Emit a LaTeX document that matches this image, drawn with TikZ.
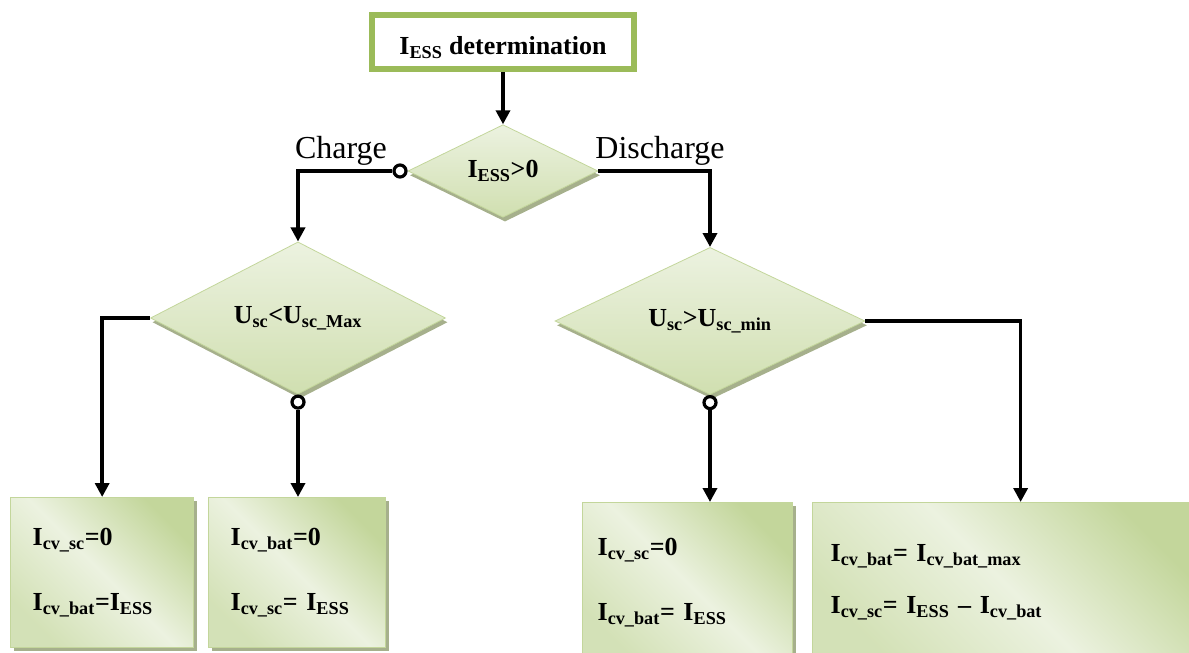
\documentclass[tikz,border=0pt]{standalone}
\usepackage{fontspec}
\setmainfont{Liberation Serif}
\usetikzlibrary{shapes.geometric,arrows.meta,shadows}
\definecolor{essgreen}{RGB}{155,187,89}
\definecolor{dialight}{RGB}{236,242,224}
\definecolor{diadark}{RGB}{208,223,176}
\definecolor{boxdark}{RGB}{195,214,155}
\definecolor{boxlight}{RGB}{236,242,224}
\definecolor{shadowgray}{RGB}{166,176,140}

\begin{document}
\begin{tikzpicture}[x=0.75pt,y=0.75pt,yscale=-1,xscale=1,
    flow/.style={line width=2.6pt,-{Triangle[width=10.5pt,length=10.5pt]}},
    port/.style={circle,draw,line width=2.4pt,fill=white,minimum size=9pt,inner sep=0pt},
    decision/.style={diamond,inner sep=0pt,draw=boxdark,line width=0.6pt,
        top color=dialight,bottom color=diadark,
        font=\fontsize{19.5}{23.4}\selectfont\bfseries,
        drop shadow={shadow xshift=1.5pt,shadow yshift=-3.2pt,fill=shadowgray,opacity=1}},
    result/.style={rectangle,anchor=north west,align=left,draw=boxdark,line width=1pt,
        top color=boxdark,bottom color=boxdark!60!boxlight,middle color=boxlight,shading angle=-45,
        font=\fontsize{19.5}{23.4}\selectfont\bfseries,
        drop shadow={shadow xshift=2.2pt,shadow yshift=-2.2pt,fill=shadowgray,opacity=1}},
    branch/.style={anchor=base,font=\fontsize{24}{28}\selectfont}]
    \clip (0,0) rectangle (1189,653);

    % start
    \node [draw=essgreen,line width=4.5pt,fill=white,minimum width=196.5pt,minimum height=40.5pt,
        text height=19pt,text depth=0pt,
        font=\fontsize{19.5}{23.4}\selectfont\bfseries] (ess) at (503,42) {I\textsubscript{ESS} determination};

    % decisions
    \node [decision,minimum width=142.5pt,minimum height=67.5pt] (chk) at (503,171) {I\textsubscript{ESS}>0};
    \node [decision,minimum width=221.25pt,minimum height=62.25pt] (usmax) at (298,318) {U\textsubscript{sc}<U\textsubscript{sc\_Max}};
    \node [decision,minimum width=232.5pt,minimum height=64.5pt] (usmin) at (710,321) {U\textsubscript{sc}>U\textsubscript{sc\_min}};

    % circles
    \node [port,anchor=east] (p1) at (chk.west) {};
    \node [port,anchor=north] (p2) at (usmax.south) {};
    \node [port,anchor=north] (p3) at (usmin.south) {};

    % results
    \node [result,text width=104.25pt,inner xsep=16.5pt,minimum height=112.5pt] (r1) at (10,497)
        {I\textsubscript{cv\_sc}=0\\[25pt]I\textsubscript{cv\_bat}=I\textsubscript{ESS}};
    \node [result,text width=99.75pt,inner xsep=16.5pt,minimum height=112.5pt] (r2) at (208,497)
        {I\textsubscript{cv\_bat}=0\\[25pt]I\textsubscript{cv\_sc}= I\textsubscript{ESS}};
    \node [result,text width=135pt,inner xsep=11.25pt,minimum height=120pt] (r3) at (582,502)
        {I\textsubscript{cv\_sc}=0\\[25pt]I\textsubscript{cv\_bat}= I\textsubscript{ESS}};
    \node [result,text width=261.75pt,inner xsep=13.5pt,minimum height=120pt] (r4) at (812,502)
        {I\textsubscript{cv\_bat}= I\textsubscript{cv\_bat\_max}\\[15.6pt]I\textsubscript{cv\_sc}= I\textsubscript{ESS} – I\textsubscript{cv\_bat}};

    % labels
    \node [branch] (lblc) at (341,158) {Charge};
    \node [branch] (lbld) at (660,158) {Discharge};

    % connectors
    \draw [flow] (ess.south) -- (chk.north);
    \draw [flow] (p1.west) -| (usmax.north);
    \draw [flow] (chk.east) -| (usmin.north);
    \draw [flow] (usmax.west) -| (r1.north);
    \draw [flow] (p2.south) -- (p2.south |- r2.north);
    \draw [flow] (p3.south) -- (p3.south |- r3.north);
    \draw [flow] (usmin.east) -| ([xshift=11.6pt]r4.north);
\end{tikzpicture}
\end{document}
